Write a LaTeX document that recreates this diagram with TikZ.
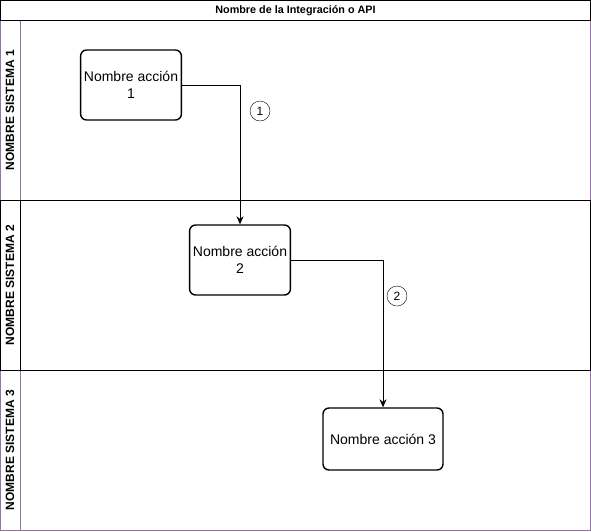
\documentclass[tikz,border=0pt]{standalone}
\usepackage{fontspec}
\setmainfont{Liberation Sans}
\usetikzlibrary{arrows.meta}
\definecolor{lanepurple}{HTML}{9673A6}

\begin{document}
\begin{tikzpicture}[x=1pt,y=-1pt]
                        \tikzstyle{lane}=[draw=lanepurple, line width=0.8pt]
                        \tikzstyle{lanetitle}=[rotate=90, font=\bfseries\fontsize{12}{14}\selectfont]
                        \tikzstyle{accion}=[draw, line width=1.4pt, rounded corners=6pt, minimum width=100pt, minimum height=70pt, align=center, font=\fontsize{14}{17}\selectfont]
                        \tikzstyle{paso}=[draw, circle, inner sep=0pt, minimum size=20pt, font=\fontsize{12}{14}\selectfont]
                        \tikzstyle{flujo}=[-{Stealth[length=8pt,width=7pt]}, line width=0.8pt]
                        \useasboundingbox (0,0) rectangle (591,531);
                        % carriles
                        \draw[lane] (0.5,20) rectangle (590.5,200);
                        \draw[lane] (0.5,370) rectangle (590.5,530.5);
                        \draw[lane] (20,20) -- (20,200);
                        \draw[lane] (20,370) -- (20,530.5);
                        \draw[line width=0.8pt] (0.5,200) rectangle (590.5,370);
                        \draw[line width=0.8pt] (20,200) -- (20,370);
                        \draw[line width=0.8pt] (0.5,0.5) rectangle (590.5,20);
                        \node[font=\bfseries\fontsize{10.8}{12}\selectfont] (titulo) at (295.5,11) {Nombre de la Integración o API};
                        \node[lanetitle] (sistema1) at (10,110) {NOMBRE SISTEMA 1};
                        \node[lanetitle] (sistema2) at (10,285) {NOMBRE SISTEMA 2};
                        \node[lanetitle] (sistema3) at (10,450) {NOMBRE SISTEMA 3};
                        % acciones
                        \node[accion] (accion1) at (131,85) {Nombre acción\\1};
                        \node[accion] (accion2) at (240,260) {Nombre acción\\2};
                        \node[accion, minimum width=120pt, minimum height=62pt] (accion3) at (383,439) {Nombre acción 3};
                        % flujos
                        \draw[flujo] (accion1.east) -| (accion2.north);
                        \draw[flujo] (accion2.east) -| (accion3.north);
                        \node[paso] (paso1) at (260,111) {1};
                        \node[paso] (paso2) at (397,296) {2};
                    \end{tikzpicture}
\end{document}
